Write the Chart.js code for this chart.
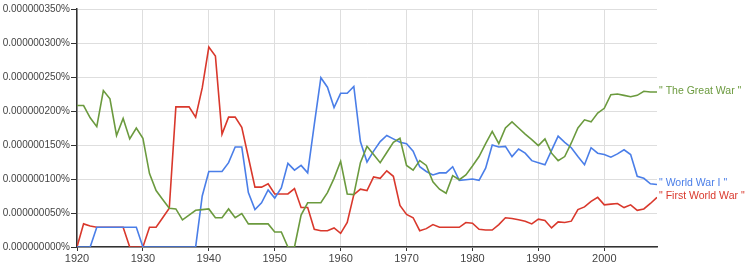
<!DOCTYPE html>
<html>
<head>
<meta charset="utf-8">
<script src="https://cdn.jsdelivr.net/npm/chart.js@4"></script>
<style>
  html, body { margin: 0; padding: 0; background: #fff; }
  #wrap { width: 748px; height: 269px; }
</style>
</head>
<body>
<div id="wrap"><canvas id="ngramChart" width="748" height="269"></canvas></div>
<script>
// values in units of 0.000000001 %
var years = [1920,1921,1922,1923,1924,1925,1926,1927,1928,1929,
  1930,1931,1932,1933,1934,1935,1936,1937,1938,1939,
  1940,1941,1942,1943,1944,1945,1946,1947,1948,1949,
  1950,1951,1952,1953,1954,1955,1956,1957,1958,1959,
  1960,1961,1962,1963,1964,1965,1966,1967,1968,1969,
  1970,1971,1972,1973,1974,1975,1976,1977,1978,1979,
  1980,1981,1982,1983,1984,1985,1986,1987,1988,1989,
  1990,1991,1992,1993,1994,1995,1996,1997,1998,1999,
  2000,2001,2002,2003,2004,2005,2006,2007,2008];

var greatWar = [208,208,190,177,230,218,164,189,159,175,
  160,108,83,70,57,56,40,47,54,55,
  56,43,43,56,43,49,34,34,34,34,
  22,22,0,0,47,65,65,65,80,101,
  126,78,77,124,148,136,124,139,154,160,
  120,113,127,120,96,85,79,105,99,106,
  119,133,152,170,152,175,184,175,166,158,
  149,159,138,127,133,153,175,187,184,197,
  204,224,225,223,221,223,229,228,228];

var worldWarI = [0,0,0,29,29,29,29,29,29,29,
  0,0,0,0,0,0,0,0,0,75,
  111,111,111,124,147,147,80,55,65,84,
  72,87,123,113,120,109,180,249,235,205,
  226,226,236,155,125,141,155,164,159,154,
  152,141,118,111,106,109,109,118,98,99,
  100,98,116,150,147,148,133,144,138,127,
  124,121,142,163,154,146,133,121,146,138,
  136,132,137,143,136,104,101,93,92];

var firstWorldWar = [0,34,31,29,29,29,29,29,0,0,
  0,29,29,43,57,206,206,206,191,234,
  294,281,166,191,191,176,132,88,88,93,
  78,78,78,86,58,58,26,24,24,28,
  20,36,77,85,83,103,101,112,104,61,
  48,43,24,27,33,29,29,29,29,36,
  35,26,25,25,33,43,42,40,38,34,
  41,39,28,37,36,38,55,59,67,73,
  62,63,64,58,62,54,56,64,73];

var seriesNames = ['" The Great War "', '" World War I "', '" First World War "'];
var seriesColors = ['#6b9a3e', '#4a7ee8', '#d9382c'];
var yTicks = [0, 50, 100, 150, 200, 250, 300, 350];

function toPoints(vals) {
  var pts = [];
  for (var i = 0; i < years.length; i++) {
    pts.push({ x: years[i], y: vals[i] });
  }
  return pts;
}

// draws the series names at the right end of each line
var endLabels = {
  id: 'endLabels',
  afterDatasetsDraw: function (chart) {
    var ctx = chart.ctx;
    var items = [];
    chart.data.datasets.forEach(function (ds, i) {
      var meta = chart.getDatasetMeta(i);
      var last = meta.data[meta.data.length - 1];
      items.push({ text: ds.label, color: ds.borderColor, y: last.y });
    });
    items.sort(function (a, b) { return a.y - b.y; });
    for (var k = 1; k < items.length; k++) {
      if (items[k].y - items[k - 1].y < 12) {
        var mid = (items[k].y + items[k - 1].y) / 2;
        items[k - 1].y = mid - 6;
        items[k].y = mid + 6;
      }
    }
    ctx.save();
    ctx.font = '10.5px "Liberation Sans", Arial, sans-serif';
    ctx.textBaseline = 'middle';
    ctx.textAlign = 'left';
    items.forEach(function (it) {
      ctx.fillStyle = it.color;
      ctx.fillText(it.text, chart.chartArea.right + 2, it.y - 1);
    });
    ctx.restore();
  }
};

var ctx = document.getElementById('ngramChart');
var chart = new Chart(ctx, {
  type: 'line',
  data: {
    datasets: [
      { label: seriesNames[0], data: toPoints(greatWar), borderColor: seriesColors[0] },
      { label: seriesNames[1], data: toPoints(worldWarI), borderColor: seriesColors[1] },
      { label: seriesNames[2], data: toPoints(firstWorldWar), borderColor: seriesColors[2] }
    ]
  },
  options: {
    responsive: false,
    animation: false,
    events: [],
    layout: { padding: { top: 9, right: 91, left: 0, bottom: 0 } },
    elements: {
      point: { radius: 0 },
      line: { borderWidth: 1.6, tension: 0, fill: false }
    },
    plugins: {
      legend: { display: false },
      tooltip: { enabled: false }
    },
    scales: {
      x: {
        type: 'linear',
        min: 1920,
        max: 2008,
        afterFit: function (s) { s.height = 22; },
        border: { color: '#333', width: 1.5 },
        grid: { color: '#dedede', lineWidth: 1, tickLength: 4, tickColor: '#333' },
        ticks: {
          stepSize: 10,
          includeBounds: false,
          maxRotation: 0,
          padding: 1,
          color: '#444',
          font: { family: '"Liberation Sans", Arial, sans-serif', size: 11 },
          callback: function (v) { return String(v); }
        }
      },
      y: {
        min: 0,
        max: 350,
        afterFit: function (s) { s.width = 77; },
        afterBuildTicks: function (s) {
          s.ticks = yTicks.map(function (v) { return { value: v }; });
        },
        border: { color: '#333', width: 1.5 },
        grid: { color: '#dedede', lineWidth: 1, tickLength: 6, tickColor: '#333' },
        ticks: {
          padding: 1,
          color: '#444',
          font: { family: '"Liberation Sans", Arial, sans-serif', size: 10 },
          callback: function (v) { return (v * 1e-9).toFixed(9) + '%'; }
        }
      }
    }
  },
  plugins: [endLabels]
});
</script>
</body>
</html>
